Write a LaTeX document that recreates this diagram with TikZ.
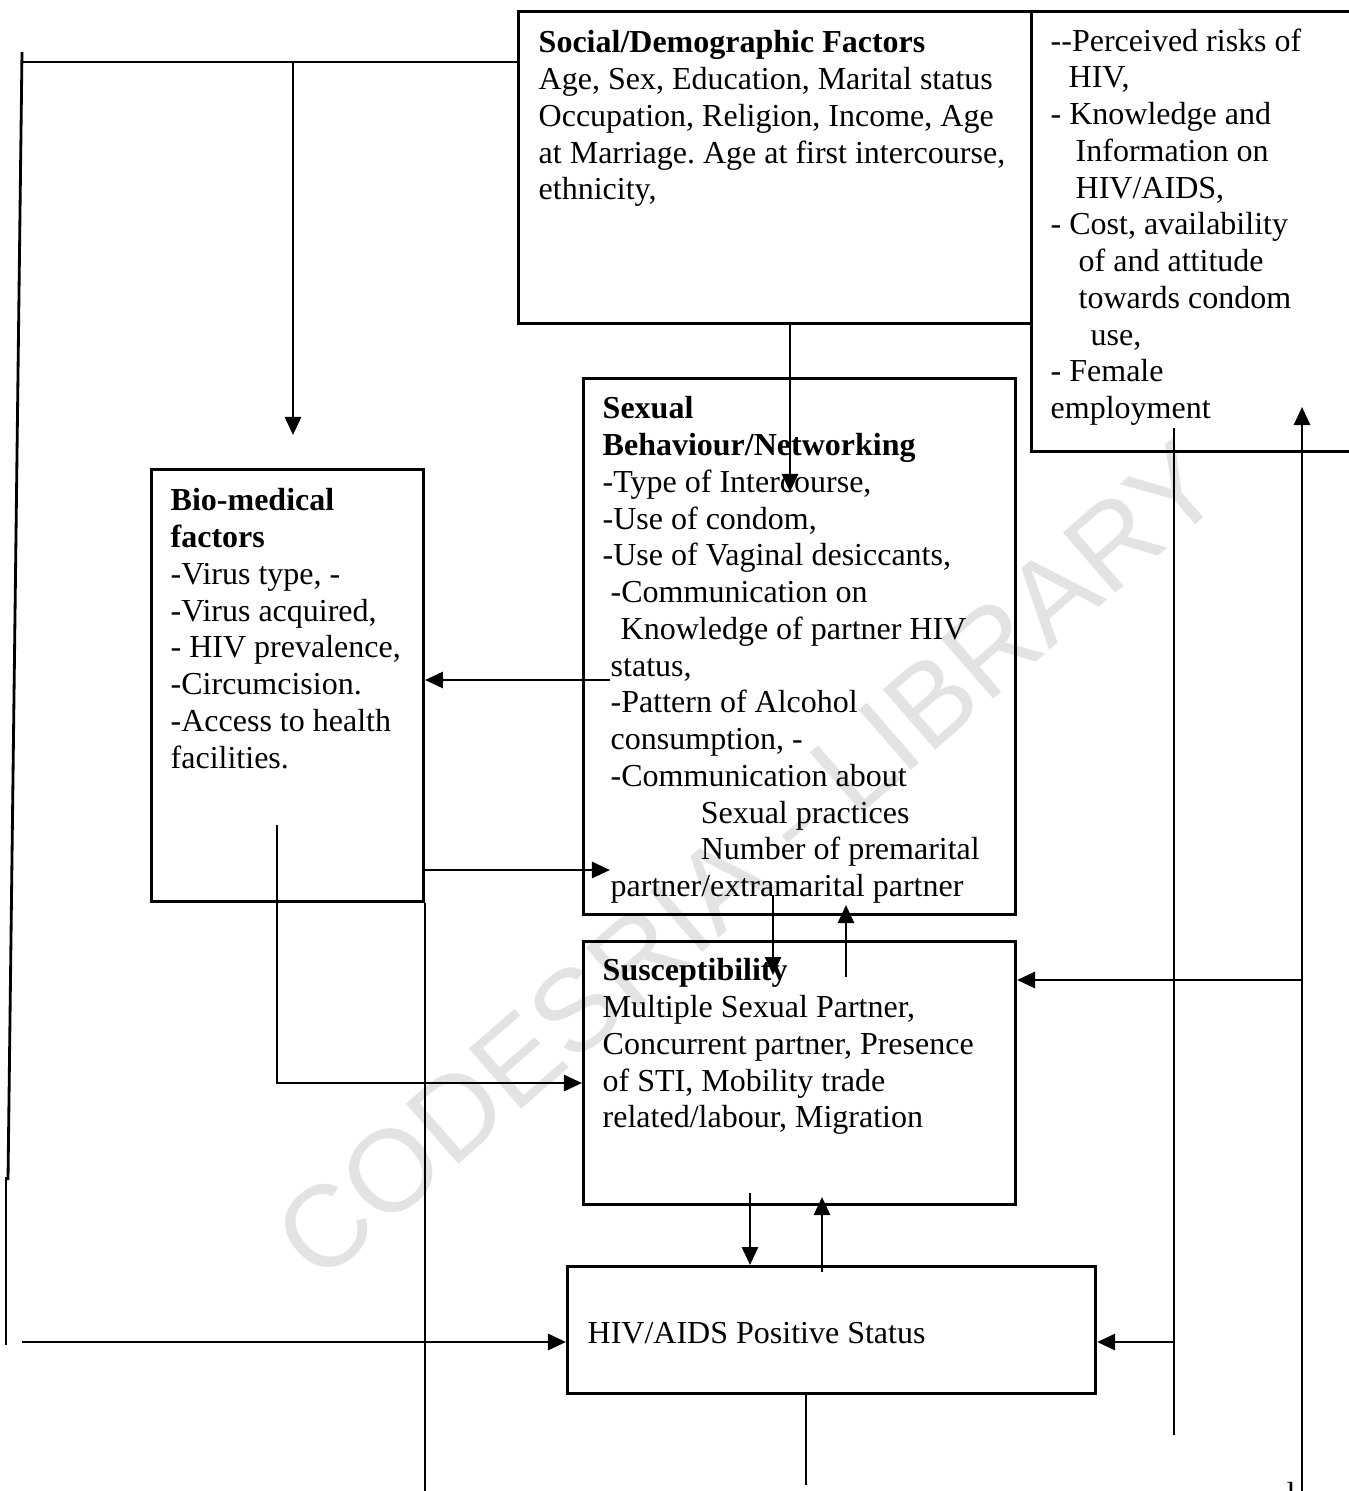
\documentclass[tikz,border=0pt]{standalone}
\usepackage{fontspec}
\setmainfont{Liberation Serif}
\newfontfamily\wmfont{Liberation Sans}
\usetikzlibrary{arrows.meta}
\frenchspacing
\tikzset{
  box/.style={draw,line width=0.8pt,inner sep=0pt,anchor=north west},
  txt/.style={inner sep=0pt,anchor=north west,align=left,font=\fontsize{9.1pt}{10.45pt}\selectfont},
  ln/.style={line width=0.8pt},
  arr/.style={line width=0.8pt,-{Triangle[length=0.18cm,width=0.16cm]}}
}

\begin{document}
\begin{tikzpicture}[x=0.01cm,y=-0.01cm]
	\useasboundingbox (0,0) rectangle (1348,1491);
	% watermark
	\node[rotate=41,text=gray!22,font=\wmfont\fontsize{33pt}{33pt}\selectfont] (wm) at (748,860) {CODESRIA - LIBRARY};
	% boxes
	\node[box,minimum width=5.13cm,minimum height=3.12cm] (soc) at (517,10) {};
	\node[box,minimum width=3.24cm,minimum height=4.40cm] (risk) at (1030,10) {};
	\node[box,minimum width=2.72cm,minimum height=4.32cm] (bio) at (150,468) {};
	\node[box,minimum width=4.32cm,minimum height=5.36cm] (sex) at (582,377) {};
	\node[box,minimum width=4.32cm,minimum height=2.63cm] (sus) at (582,940) {};
	\node[box,minimum width=5.28cm,minimum height=1.27cm] (hiv) at (566,1265) {};
	% texts
	\node[txt] (soctxt) at (538,30) {\textbf{Social/Demographic Factors}\\Age, Sex, Education, Marital status\\Occupation, Religion, Income, Age\\at Marriage. Age at first intercourse,\\ethnicity,};
	\node[txt] (risktxt) at (1050,28) {-{}-Perceived risks of\\\hspace*{0.18cm}HIV,\\- Knowledge and\\\hspace*{0.25cm}Information on\\\hspace*{0.25cm}HIV/AIDS,\\- Cost, availability\\\hspace*{0.28cm}of and attitude\\\hspace*{0.28cm}towards condom\\\hspace*{0.40cm}use,\\- Female\\employment};
	\node[txt] (biotxt) at (170,488) {\textbf{Bio-medical}\\\textbf{factors}\\-Virus type, -\\-Virus acquired,\\- HIV prevalence,\\-Circumcision.\\-Access to health\\facilities.};
	\node[txt] (sextxt) at (602,396) {\textbf{Sexual}\\\textbf{Behaviour/Networking}\\-Type of Intercourse,\\-Use of condom,\\-Use of Vaginal desiccants,\\\hspace*{0.08cm}-Communication on\\\hspace*{0.18cm}Knowledge of partner HIV\\\hspace*{0.08cm}status,\\\hspace*{0.08cm}-Pattern of Alcohol\\\hspace*{0.08cm}consumption, -\\\hspace*{0.08cm}-Communication about\\\hspace*{0.98cm}Sexual practices\\\hspace*{0.98cm}Number of premarital\\\hspace*{0.08cm}partner/extramarital partner};
	\node[txt] (sustxt) at (602,958) {\textbf{Susceptibility}\\Multiple Sexual Partner,\\Concurrent partner, Presence\\of STI, Mobility trade\\related/labour, Migration};
	\node[txt,anchor=base west] (hivtxt) at (587,1343) {HIV/AIDS Positive Status};
	\node[txt,anchor=base west] (cut) at (1286,1504) {l};
	% connector points
	\coordinate (topL) at (22,52);
	\coordinate (topLb) at (8,1180);
	\coordinate (bus) at (22,62);
	\coordinate (busdrop) at (293,62);
	\coordinate (biotop) at (293,435);
	\coordinate (lowL) at (6,1177);
	\coordinate (lowLb) at (6,1345);
	\coordinate (hivin) at (22,1342);
	\coordinate (socout) at (790,492);
	\coordinate (sexout) at (610,680);
	\coordinate (bioout) at (610,870);
	\coordinate (bioend) at (422,1491);
	\coordinate (biolow) at (277,825);
	\coordinate (susin) at (277,1083);
	\coordinate (dnA) at (773,895);
	\coordinate (dnAb) at (773,975);
	\coordinate (upA) at (846,977);
	\coordinate (upAb) at (846,905);
	\coordinate (dnB) at (750,1193);
	\coordinate (upB) at (822,1272);
	\coordinate (upBb) at (822,1197);
	\coordinate (hivend) at (806,1485);
	\coordinate (rA) at (1174,428);
	\coordinate (rAb) at (1174,1435);
	\coordinate (rAhiv) at (1174,1342);
	\coordinate (rB) at (1302,1491);
	\coordinate (rBtop) at (1302,407);
	\coordinate (rBsus) at (1302,980);
	% connectors
	\draw[ln] (topL) -- (topLb);
	\draw[ln] (bus) -- (bus -| soc.west);
	\draw[arr] (busdrop) -- (biotop);
	\draw[ln] (lowL) -- (lowLb);
	\draw[arr] (hivin) -- (hivin -| hiv.west);
	\draw[arr] (socout |- soc.south) -- (socout);
	\draw[arr] (sexout) -- (sexout -| bio.east);
	\draw[arr] (bioout -| bio.east) -- (bioout);
	\draw[ln] (bio.south east) -- (bio.south east |- bioend);
	\draw[arr] (biolow) -- (susin) -- (susin -| sus.west);
	\draw[arr] (dnA) -- (dnAb);
	\draw[arr] (upA) -- (upAb);
	\draw[arr] (dnB) -- (dnB |- hiv.north);
	\draw[arr] (upB) -- (upBb);
	\draw[ln] (hivend |- hiv.south) -- (hivend);
	\draw[ln] (rA) -- (rAb);
	\draw[arr] (rAhiv) -- (rAhiv -| hiv.east);
	\draw[arr] (rB) -- (rBtop);
	\draw[arr] (rBsus) -- (rBsus -| sus.east);
\end{tikzpicture}
\end{document}
